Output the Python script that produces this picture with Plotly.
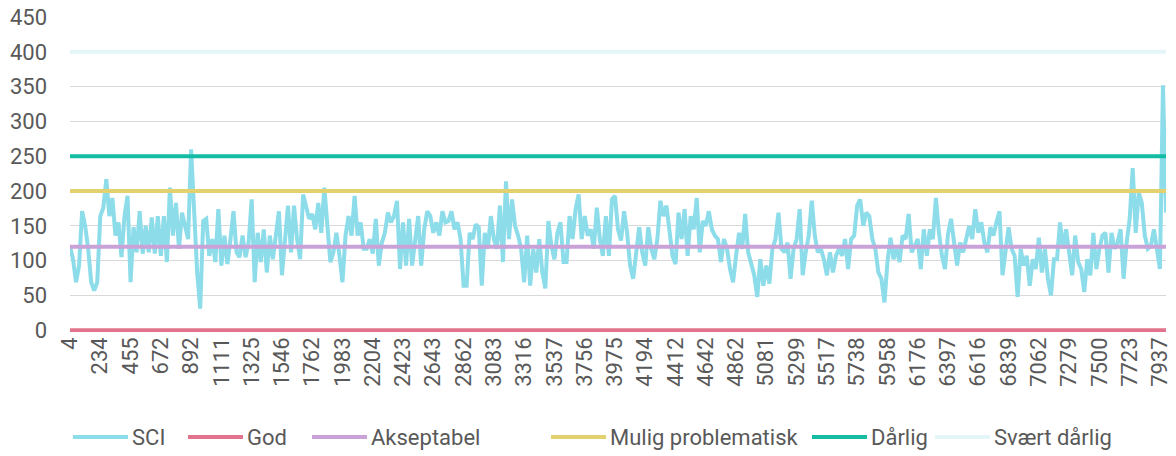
import plotly.graph_objects as go

# Tick labels shown on the category axis (every 10th category)
tick_labels = ["4", "234", "455", "672", "892", "1111", "1325", "1546", "1762", "1983",
               "2204", "2423", "2643", "2862", "3083", "3316", "3537", "3756", "3975",
               "4194", "4412", "4642", "4862", "5081", "5299", "5517", "5738", "5958",
               "6176", "6397", "6616", "6839", "7062", "7279", "7500", "7723", "7937"]
tick_step = 10

# SCI values
sci = [
    121, 102, 69, 93, 171, 150, 117, 69, 57, 69, 164, 176, 217, 164, 190, 136, 155, 105, 164, 193,
    69, 148, 112, 171, 110, 150, 112, 162, 110, 164, 107, 164,
    98, 205, 136, 183, 117, 169, 150, 131, 260, 160, 83, 31, 157, 160, 107, 131, 98, 174,
    93, 136, 95, 131, 171, 112, 105, 136, 105, 126, 188, 69, 140, 98, 145,
    83, 136, 102, 140, 171, 79, 136, 179, 112, 179, 131, 102, 195, 174, 160, 167, 145,
    183, 140, 205, 145, 98, 112, 140, 107, 69, 136, 164, 136, 193, 136, 155, 117,
    117, 131, 110, 160, 93, 126, 140, 169, 155, 164, 186, 88, 155, 93, 160, 93, 126,
    164, 93, 145, 171, 164, 140, 155, 136, 171, 155, 157, 171, 145, 155, 131, 64,
    64, 140, 131, 152, 148, 64, 140, 117, 164, 131, 117, 179, 98, 214, 131, 188, 150,
    136, 117, 69, 136, 64, 117, 83, 131, 83, 60, 157, 121, 102, 140, 155, 98,
    98, 164, 131, 174, 195, 131, 164, 136, 145, 117, 176, 131, 107, 164, 107, 188, 193,
    145, 129, 171, 140, 93, 74, 112, 148, 112, 93, 148, 117, 102, 131, 186, 164,
    179, 136, 107, 95, 169, 131, 174, 107, 164, 145, 190, 112, 157, 150, 171, 145, 136,
    131, 98, 131, 117, 88, 69, 107, 140, 117, 167, 112, 93, 79, 48, 102, 64,
    93, 67, 117, 131, 169, 117, 112, 126, 74, 117, 131, 174, 79, 112, 136, 186, 136,
    112, 117, 102, 79, 112, 83, 107, 117, 107, 131, 88, 131, 136, 179, 188, 150,
    169, 164, 131, 117, 83, 74, 40, 98, 133, 102, 117, 98, 136, 131, 167, 112, 121,
    131, 88, 145, 107, 145, 131, 190, 140, 107, 88, 138, 160, 121, 93, 126, 112,
    131, 150, 131, 174, 140, 155, 126, 112, 148, 136, 155, 171, 79, 117, 148, 117, 107,
    48, 117, 93, 107, 64, 102, 88, 133, 83, 117, 74, 50, 102, 102, 155, 117,
    145, 107, 79, 136, 98, 88, 55, 102, 79, 140, 88, 117, 136, 140, 83, 140, 117,
    126, 145, 74, 126, 160, 233, 140, 198, 183, 136, 117, 121, 145, 112, 88, 352, 169,
]

# Threshold levels
god = 0
akseptabel = 120
mulig_problematisk = 200
darlig = 250
svaert_darlig = 400

x = list(range(len(sci)))
tick_vals = [i * tick_step for i in range(len(tick_labels))]

family = "Roboto, Arial, sans-serif"
grey = "#595959"
font = dict(family=family, size=22, color=grey)

sci_color = "#8ddcea"
series = [
    ("SCI", None, sci_color),
    ("God", god, "#e2738c"),
    ("Akseptabel", akseptabel, "#c9a2d8"),
    ("Mulig problematisk", mulig_problematisk, "#e3d06f"),
    ("Dårlig", darlig, "#14bca4"),
    ("Svært dårlig", svaert_darlig, "#e5f6f9"),
]

fig = go.Figure()
fig.add_trace(go.Scatter(x=x, y=sci, mode="lines", name="SCI", showlegend=False,
                         line=dict(color=sci_color, width=4)))
for name, val, col in series[1:]:
    fig.add_trace(go.Scatter(x=[x[0], x[-1]], y=[val, val], mode="lines", name=name,
                             showlegend=False, line=dict(color=col, width=4)))

# Plot area in page pixels: x 70..1166, y 17..332 (range padded slightly below 0)
W, H = 1176, 456
ml, mr, mt, mb = 70, 10, 17, 124
plot_w = W - ml - mr
plot_h = H - mt - mb

def px_x(page_x):
    return (page_x - ml) / plot_w

def px_y(page_y):
    return (H - mb - page_y) / plot_h

# Custom legend (lines 55px long, as in the reference)
legend_starts = [73, 188, 312, 551, 812, 935]
legend_y = px_y(437)
shapes = []
annotations = []
for (name, _, col), sx in zip(series, legend_starts):
    shapes.append(dict(type="line", xref="paper", yref="paper",
                       x0=px_x(sx), x1=px_x(sx + 55), y0=legend_y, y1=legend_y,
                       line=dict(color=col, width=4)))
    annotations.append(dict(xref="paper", yref="paper", x=px_x(sx + 57), y=legend_y,
                            text=name, showarrow=False, xanchor="left", yanchor="middle",
                            font=font))

fig.update_layout(
    width=W, height=H,
    margin=dict(l=ml, r=mr, t=mt, b=mb, autoexpand=False),
    paper_bgcolor="white", plot_bgcolor="white",
    font=font,
    showlegend=False,
    shapes=shapes,
    annotations=annotations,
    xaxis=dict(range=[x[0], x[-1]], tickmode="array", tickvals=tick_vals,
               ticktext=tick_labels, tickangle=-90, showgrid=False, zeroline=False,
               showline=False, ticks="", tickfont=font, automargin=False),
    yaxis=dict(range=[-2.5, 450], tickmode="array", tickvals=list(range(0, 451, 50)),
               showgrid=True, gridcolor="#d9d9d9",
               gridwidth=1.3, zeroline=False, showline=False, ticks="",
               tickfont=font, ticklabelstandoff=22, automargin=False),
)

# Remove the default 8px page margin so the figure fills the window exactly
fig.write_html("out.html", config={"displayModeBar": False},
               post_script="document.body.style.margin='0';")
